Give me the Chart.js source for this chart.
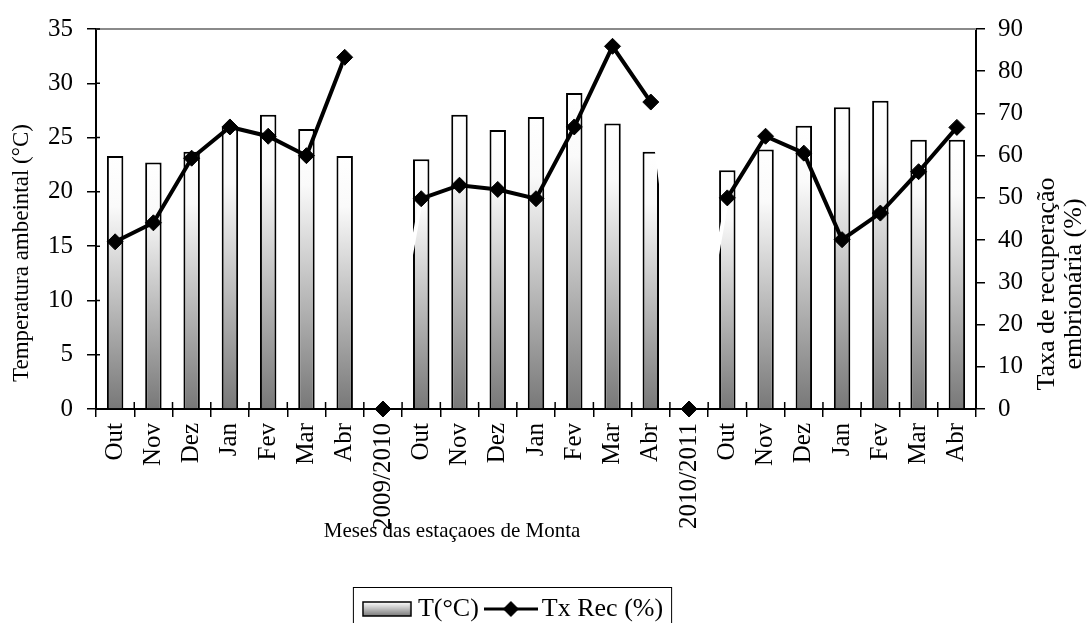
<!DOCTYPE html>
<html>
<head>
<meta charset="utf-8">
<script src="https://cdn.jsdelivr.net/npm/chart.js@4.4.1/dist/chart.umd.min.js"></script>
<style>
    html, body { margin: 0; padding: 0; background: #fff; }
    #wrap { width: 1092px; height: 623px; }
</style>
</head>
<body>
<div id="wrap"><canvas id="chart"></canvas></div>
<script>

//
// Data
//

const monthLabels = ["Out", "Nov", "Dez", "Jan", "Fev", "Mar", "Abr"];
const seasonLabels = ["2009/2010", "2010/2011"];

const categories = [
    ...monthLabels, seasonLabels[0],
    ...monthLabels, seasonLabels[1],
    ...monthLabels
];

// T(°C), left axis (null on the season separators)
const temperature = [
    23.3, 22.7, 23.7, 26.0, 27.1, 25.8, 23.3, null,
    23.0, 27.1, 25.7, 26.9, 29.1, 26.3, 23.7, null,
    22.0, 23.9, 26.1, 27.8, 28.4, 24.8, 24.8
];

// Tx Rec (%), right axis
const recoveryRate = [
    39.6, 44.1, 59.4, 66.8, 64.6, 60.0, 83.3, 0,
    49.8, 53.0, 52.0, 49.8, 66.8, 85.9, 72.7, 0,
    50.0, 64.6, 60.6, 40.1, 46.4, 56.2, 66.7
];

const leftTitle = "Temperatura ambeintal (°C)";
const rightTitle = ["Taxa de recuperação", "embrionária (%)"];
const xTitle = "Meses das estaçaoes de Monta";
const legendNames = ["T(°C)", "Tx Rec (%)"];

const FONT = '"Liberation Serif", "Times New Roman", serif';

const separators = new Set();
temperature.forEach((v, i) => { if (v === null) separators.add(i); });

//
// Legend swatches
//

function makeBarSwatch() {
    const c = document.createElement("canvas");
    c.width = 50; c.height = 16;
    const g = c.getContext("2d");
    const grad = g.createLinearGradient(0, 1, 0, 15);
    grad.addColorStop(0, "#ffffff");
    grad.addColorStop(1, "#7a7a7a");
    g.fillStyle = grad;
    g.fillRect(1, 1, 48, 14);
    g.strokeStyle = "#000";
    g.lineWidth = 1.5;
    g.strokeRect(1, 1, 48, 14);
    return c;
}

function makeLineSwatch() {
    const c = document.createElement("canvas");
    c.width = 54; c.height = 18;
    const g = c.getContext("2d");
    g.strokeStyle = "#000";
    g.lineWidth = 3;
    g.beginPath(); g.moveTo(0, 9); g.lineTo(54, 9); g.stroke();
    g.fillStyle = "#000";
    g.beginPath();
    g.moveTo(27, 1); g.lineTo(35, 9); g.lineTo(27, 17); g.lineTo(19, 9);
    g.closePath(); g.fill();
    return c;
}

//
// Frame, inner tick marks, titles and legend box
//

const decorPlugin = {
    id: "decor",

    afterDraw(chart) {
        const { ctx, chartArea: { left, right, top, bottom }, scales: { x, y } } = chart;
        const midY = (top + bottom) / 2;

        ctx.save();

        // grey top frame line
        ctx.strokeStyle = "#8a8a8a";
        ctx.lineWidth = 2;
        ctx.beginPath();
        ctx.moveTo(left, top);
        ctx.lineTo(right, top);
        ctx.stroke();

        // tick marks also poke into the plot area
        ctx.strokeStyle = "#000";
        ctx.lineWidth = 1.5;
        ctx.beginPath();
        for (let i = 0; i <= categories.length; i++) {
            const xPos = x.getPixelForValue(i - 0.5);
            ctx.moveTo(xPos, bottom);
            ctx.lineTo(xPos, bottom - 7);
        }
        y.ticks.forEach(t => {
            const yPos = y.getPixelForValue(t.value);
            ctx.moveTo(left, yPos);
            ctx.lineTo(left + 4, yPos);
        });
        ctx.stroke();

        ctx.fillStyle = "#000";
        ctx.textAlign = "center";
        ctx.textBaseline = "middle";

        // left axis title
        ctx.font = "23px " + FONT;
        ctx.save();
        ctx.translate(left - 74, midY + 34);
        ctx.rotate(-Math.PI / 2);
        ctx.fillText(leftTitle, 0, 0);
        ctx.restore();

        // right axis title, two lines
        ctx.font = "26px " + FONT;
        ctx.save();
        ctx.translate(right + 84, midY + 65);
        ctx.rotate(-Math.PI / 2);
        ctx.fillText(rightTitle[0], 0, -13);
        ctx.fillText(rightTitle[1], 0, 14);
        ctx.restore();

        // x axis title
        ctx.font = "21px " + FONT;
        ctx.fillText(xTitle, (left + right) / 2 - 84, bottom + 122);

        // legend border
        const boxes = chart.legend.legendHitBoxes;
        if (boxes && boxes.length) {
            const l = Math.min(...boxes.map(b => b.left)) - 16;
            const r = Math.max(...boxes.map(b => b.left + b.width)) + 8;
            const t = Math.min(...boxes.map(b => b.top)) - 9;
            ctx.strokeStyle = "#000";
            ctx.lineWidth = 1;
            ctx.strokeRect(l + 0.5, t + 0.5, r - l, chart.height - t + 4);
        }

        ctx.restore();
    }
};

//
// Bar gradient (white top -> grey base, per bar)
//

function barFill(context) {
    const chart = context.chart;
    if (!chart.chartArea || context.type !== "data" || context.raw === null) {
        return "#bbbbbb";
    }
    const y = chart.scales.y;
    const yTop = y.getPixelForValue(context.raw);
    const yBase = y.getPixelForValue(0);
    const grad = chart.ctx.createLinearGradient(0, yTop, 0, yBase);
    grad.addColorStop(0, "#ffffff");
    grad.addColorStop(0.2, "#fafafa");
    grad.addColorStop(1, "#787878");
    return grad;
}

const barSwatch = makeBarSwatch();
const lineSwatch = makeLineSwatch();

new Chart(document.getElementById("chart"), {
    type: "bar",
    plugins: [decorPlugin],
    data: {
        labels: categories,
        datasets: [
            {
                label: legendNames[0],
                data: temperature,
                yAxisID: "y",
                order: 2,
                backgroundColor: barFill,
                borderColor: "#000",
                borderWidth: 2,
                barPercentage: 0.43,
                categoryPercentage: 1
            },
            {
                type: "line",
                label: legendNames[1],
                data: recoveryRate,
                yAxisID: "y1",
                order: 1,
                clip: false,
                borderColor: "#000",
                borderWidth: 4,
                tension: 0,
                pointStyle: "rectRot",
                pointRadius: 8,
                pointBackgroundColor: "#000",
                pointBorderColor: "#000",
                pointBorderWidth: 1,
                segment: {
                    borderColor: ctx =>
                        (separators.has(ctx.p0DataIndex) || separators.has(ctx.p1DataIndex))
                            ? "#ffffff" : "#000"
                }
            }
        ]
    },
    options: {
        responsive: true,
        maintainAspectRatio: false,
        animation: false,
        events: [],
        layout: {
            padding: { top: 25, right: 60, bottom: -9, left: 0 }
        },
        scales: {
            x: {
                offset: true,
                grid: {
                    offset: true,
                    drawOnChartArea: false,
                    color: "#000",
                    lineWidth: 1.5,
                    tickLength: 8
                },
                border: { color: "#000", width: 2 },
                ticks: {
                    color: "#000",
                    font: { family: FONT, size: 25 },
                    maxRotation: 90,
                    minRotation: 90,
                    autoSkip: false,
                    padding: 6
                },
                afterFit(scale) { scale.height = 173; }
            },
            y: {
                position: "left",
                min: 0,
                max: 35,
                grid: {
                    drawOnChartArea: false,
                    color: "#000",
                    lineWidth: 1.5,
                    tickLength: 9
                },
                border: { color: "#000", width: 2 },
                ticks: {
                    stepSize: 5,
                    color: "#000",
                    font: { family: FONT, size: 25 },
                    padding: 14
                },
                afterFit(scale) { scale.width = 96; }
            },
            y1: {
                position: "right",
                min: 0,
                max: 90,
                grid: {
                    drawOnChartArea: false,
                    color: "#000",
                    lineWidth: 1.5,
                    tickLength: 9
                },
                border: { color: "#000", width: 2 },
                ticks: {
                    stepSize: 10,
                    color: "#000",
                    font: { family: FONT, size: 25 },
                    padding: 13
                },
                afterFit(scale) { scale.width = 56; }
            }
        },
        plugins: {
            tooltip: { enabled: false },
            legend: {
                position: "bottom",
                labels: {
                    color: "#000",
                    font: { family: FONT, size: 26 },
                    usePointStyle: true,
                    pointStyleWidth: 36,
                    padding: 14,
                    generateLabels() {
                        return [
                            { text: legendNames[0], pointStyle: barSwatch, datasetIndex: 0, lineWidth: 0, fontColor: "#000" },
                            { text: legendNames[1], pointStyle: lineSwatch, datasetIndex: 1, lineWidth: 0, fontColor: "#000" }
                        ];
                    }
                }
            }
        }
    }
});
</script>
</body>
</html>
